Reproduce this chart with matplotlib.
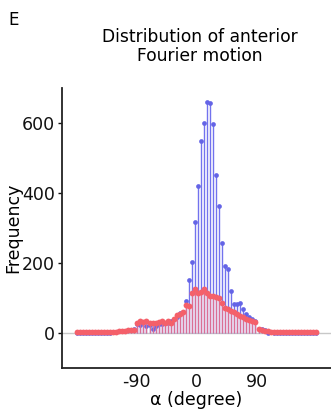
import numpy as np
import matplotlib
matplotlib.use("Agg")
import matplotlib.pyplot as plt

# Bin centres of the angle histogram (4.5 degree bins over -180..180)
bin_width = 4.5
alpha_deg = -180 + bin_width / 2 + bin_width * np.arange(80)

# Counts per bin for the two motion groups
freq_blue = [
    0, 0, 0, 0, 0, 0, 0, 0, 0, 0,
    0, 0, 2, 3, 4, 5, 6, 7, 8, 10,
    25, 23, 30, 20, 23, 10, 20, 24, 26, 28,
    27, 35, 39, 45, 56, 60, 91, 152, 201, 316,
    418, 548, 599, 659, 657, 596, 450, 363, 256, 190,
    182, 120, 81, 82, 86, 67, 54, 46, 40, 34,
    12, 10, 8, 0, 2, 0, 0, 0, 0, 0,
    0, 0, 0, 0, 0, 0, 0, 0, 0, 0,
]
freq_red = [
    1, 1, 1, 1, 1, 1, 1, 1, 1, 1,
    1, 1, 2, 3, 4, 5, 6, 7, 8, 9,
    29, 35, 30, 35, 29, 28, 27, 32, 35, 29,
    35, 27, 40, 51, 54, 60, 78, 75, 113, 124,
    113, 117, 124, 113, 105, 105, 101, 98, 84, 72,
    67, 63, 58, 55, 47, 44, 40, 36, 33, 31,
    10, 9, 6, 4, 2, 1, 1, 1, 1, 1,
    1, 1, 1, 1, 1, 1, 1, 1, 1, 1,
]

xticks = [-90, 0, 90]
xticklabels = ["-90", "0", "90"]
yticks = [0, 200, 400, 600]

plt.rcParams["font.family"] = ["DejaVu Sans"]

fig = plt.figure(figsize=(3.31, 4.17), dpi=100)
ax = fig.add_axes([0.187, 0.118, 0.813, 0.672])

blue_line = "#7272ee"
blue_dot = "#6464e6"
red_line = "#ee6f86"
red_dot = "#f4606a"

ax.axhline(0, color="#c8c8c8", lw=1.0, zorder=1)

ax.vlines(alpha_deg, 0, freq_blue, color=blue_line, lw=1.0, zorder=2)
ax.plot(alpha_deg, freq_blue, "o", color=blue_dot, ms=3.4, mew=0, zorder=3)
ax.vlines(alpha_deg, 0, freq_red, color=red_line, lw=1.0, alpha=0.85, zorder=4)
ax.plot(alpha_deg, freq_red, "o", color=red_dot, ms=4.2, mew=0, zorder=5)

ax.set_xlim(-200, 200)
ax.set_ylim(-100, 700)
ax.set_xticks(xticks)
ax.set_xticklabels(xticklabels)
ax.set_yticks(yticks)

for s in ["top", "right"]:
    ax.spines[s].set_visible(False)
for s in ["left", "bottom"]:
    ax.spines[s].set_linewidth(1.3)
    ax.spines[s].set_color("#222222")

ax.tick_params(axis="both", labelsize=12.5, length=3, width=1, colors="#111111")
ax.tick_params(axis="y", pad=2)
ax.tick_params(axis="x", length=0, pad=4)

ax.set_xlabel("α (degree)", fontsize=12.5, labelpad=0)
ax.set_ylabel("Frequency", fontsize=12.5, labelpad=0)

fig.text(0.604, 0.888, "Distribution of anterior\nFourier motion",
         ha="center", va="center", fontsize=12.3, linespacing=1.1)
fig.text(0.024, 0.953, "E", ha="left", va="center", fontsize=12)

fig.savefig("out.png", dpi=100)
